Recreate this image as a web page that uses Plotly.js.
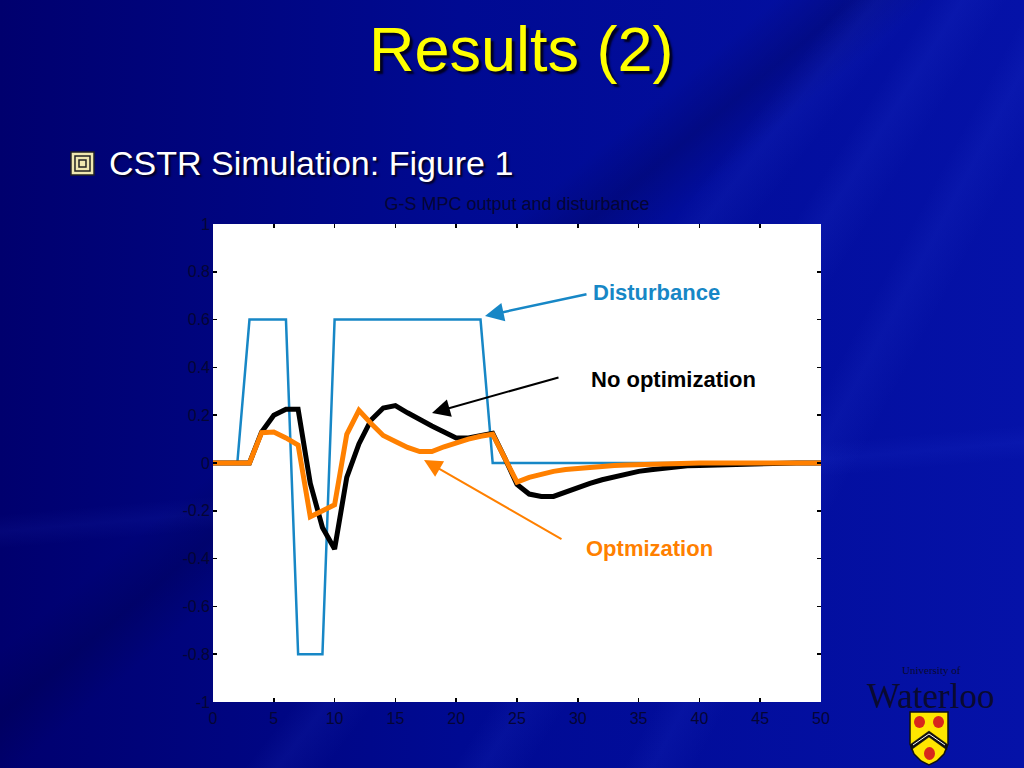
<!DOCTYPE html>
<html>
<head>
<meta charset="utf-8">
<script src="https://cdn.plot.ly/plotly-3.0.1.min.js"></script>
<style>
html,body{margin:0;padding:0;width:1024px;height:768px;overflow:hidden;}
body{
background:
 linear-gradient(128deg, transparent 52%, rgba(70,100,255,0.08) 54%, transparent 57%),
 linear-gradient(122deg, transparent 62%, rgba(70,100,255,0.08) 64%, transparent 67%),
 linear-gradient(118deg, transparent 72%, rgba(70,100,255,0.07) 74%, transparent 77%),
 linear-gradient(140deg, transparent 40%, rgba(0,0,60,0.25) 44%, transparent 48%),
 linear-gradient(175deg, transparent 60%, rgba(60,90,255,0.07) 62%, transparent 64%),
 linear-gradient(to right, #00006e 0%, #000a92 45%, #0512a8 100%);
}
#chart{width:1024px;height:768px;}
</style>
</head>
<body>
<div id="chart"></div>
<script>
// ---- data ----
const xDist = [0, 2, 3, 6, 7, 9, 10, 22, 23, 50];
const yDist = [0, 0, 0.6, 0.6, -0.8, -0.8, 0.6, 0.6, 0, 0];

const tSteps = [0,1,2,3,4,5,6,7,8,9,10,11,12,13,14,15,16,17,18,19,20,21,22,23,24,25,26,27,28,29,30,31,32,33,34,35,36,37,38,39,40,41,42,43,44,45,46,47,48,49,50];
const yNoOpt = [0,0,0,0,0.13,0.20,0.225,0.225,-0.085,-0.27,-0.36,-0.06,0.08,0.18,0.23,0.24,0.21,0.18,0.155,0.13,0.105,0.105,0.113,0.124,0.02,-0.09,-0.13,-0.14,-0.14,-0.12,-0.10,-0.085,-0.07,-0.057,-0.045,-0.035,-0.028,-0.022,-0.016,-0.012,-0.01,-0.008,-0.006,-0.005,-0.004,-0.003,-0.002,-0.001,0,0,0];
const yOpt = [0,0,0,0,0.127,0.13,0.105,0.075,-0.225,-0.2,-0.175,0.12,0.22,0.165,0.115,0.09,0.065,0.048,0.048,0.068,0.085,0.1,0.112,0.12,0.02,-0.08,-0.06,-0.045,-0.035,-0.027,-0.022,-0.017,-0.013,-0.01,-0.008,-0.006,-0.004,-0.002,0,0,0,0,0,0,0,0,0,0,0,0,0];

const xTickVals = [0,5,10,15,20,25,30,35,40,45,50];
const xTickText = ['0','5','10','15','20','25','30','35','40','45','50'];
const yTickVals = [-1,-0.8,-0.6,-0.4,-0.2,0,0.2,0.4,0.6,0.8,1];
const yTickText = ['-1','-0.8','-0.6','-0.4','-0.2','0','0.2','0.4','0.6','0.8','1'];

// ---- helpers for pixel -> paper ----
const L=213, R=821, T=224, B=702;
const px = v => (v-L)/(R-L);
const py = v => (B-v)/(B-T);
function pathPx(pts){ return 'M' + pts.map(p=>px(p[0]).toFixed(4)+','+py(p[1]).toFixed(4)).join(' L') + ' Z'; }

const font = 'Liberation Sans, Arial, sans-serif';
const tickCol = '#050535';

const traces = [
 {x:xDist, y:yDist, mode:'lines', line:{color:'#1787c6', width:2.5}, name:'Disturbance'},
 {x:tSteps, y:yNoOpt, mode:'lines', line:{color:'#000000', width:5}, name:'No optimization'},
 {x:tSteps, y:yOpt, mode:'lines', line:{color:'#ff8000', width:5}, name:'Optmization'}
];

const shapes = [
 // bullet icon
 {type:'path', xref:'paper', yref:'paper', path:pathPx([[71,152],[94,152],[94,175],[71,175]]), fillcolor:'#efe7b0', line:{color:'#222', width:1.5}},
 {type:'path', xref:'paper', yref:'paper', path:pathPx([[75,156],[90,156],[90,171],[75,171]]), fillcolor:'rgba(0,0,0,0)', line:{color:'#222', width:1.5}},
 {type:'path', xref:'paper', yref:'paper', path:pathPx([[79,160],[86,160],[86,167],[79,167]]), fillcolor:'rgba(0,0,0,0)', line:{color:'#222', width:1.5}},
 // shield
 {type:'path', xref:'paper', yref:'paper', path:pathPx([[910,712],[948,712],[948,744],[944,754],[937,761],[929,765],[921,761],[914,754],[910,744]]), fillcolor:'#ffe600', line:{color:'#111', width:1.5}},
 {type:'path', xref:'paper', yref:'paper', path:pathPx([[911,744],[929,731],[947,744],[947,750],[929,737],[911,750]]), fillcolor:'#111', line:{color:'#111', width:0.5}},
 {type:'path', xref:'paper', yref:'paper', path:pathPx([[913,745],[929,734],[945,745]]).replace(' Z',''), fillcolor:'rgba(0,0,0,0)', line:{color:'#fff', width:1}},
 {type:'circle', xref:'paper', yref:'paper', x0:px(914), x1:px(925), y0:py(728), y1:py(716), fillcolor:'#d8261c', line:{width:0}},
 {type:'circle', xref:'paper', yref:'paper', x0:px(933), x1:px(944), y0:py(728), y1:py(716), fillcolor:'#d8261c', line:{width:0}},
 {type:'circle', xref:'paper', yref:'paper', x0:px(924), x1:px(935), y0:py(760), y1:py(747), fillcolor:'#d8261c', line:{width:0}}
];

const annotations = [
 // slide title
 {xref:'paper', yref:'paper', x:px(521), y:py(49), text:'Results (2)', showarrow:false, xanchor:'center', yanchor:'middle',
  font:{family:font, size:63, color:'#ffff00', shadow:'3px 3px 2px #000020'}},
 // bullet text
 {xref:'paper', yref:'paper', x:px(107), y:py(163), text:'CSTR Simulation: Figure 1', showarrow:false, xanchor:'left', yanchor:'middle',
  font:{family:font, size:34, color:'#ffffff', shadow:'2px 2px 2px #000020'}},
 // arrows
 {xref:'x', yref:'y', axref:'x', ayref:'y', x:(485-L)/12.16, y:(463-316)/239, ax:(588-L)/12.16, ay:(463-294)/239, text:'', showarrow:true,
  arrowhead:2, arrowsize:1.5, arrowwidth:2.5, arrowcolor:'#1787c6'},
 {xref:'x', yref:'y', axref:'x', ayref:'y', x:(432-L)/12.16, y:(463-413)/239, ax:(560-L)/12.16, ay:(463-377)/239, text:'', showarrow:true,
  arrowhead:2, arrowsize:1.8, arrowwidth:2, arrowcolor:'#000000'},
 {xref:'x', yref:'y', axref:'x', ayref:'y', x:(424-L)/12.16, y:(463-460)/239, ax:(563-L)/12.16, ay:(463-540)/239, text:'', showarrow:true,
  arrowhead:2, arrowsize:1.8, arrowwidth:2, arrowcolor:'#ff8000'},
 // labels
 {xref:'paper', yref:'paper', x:px(591), y:py(292), text:'<b>Disturbance</b>', showarrow:false, xanchor:'left', yanchor:'middle',
  font:{family:font, size:22, color:'#1787c6'}},
 {xref:'paper', yref:'paper', x:px(589), y:py(379), text:'<b>No optimization</b>', showarrow:false, xanchor:'left', yanchor:'middle',
  font:{family:font, size:22, color:'#000000'}},
 {xref:'paper', yref:'paper', x:px(584), y:py(548), text:'<b>Optmization</b>', showarrow:false, xanchor:'left', yanchor:'middle',
  font:{family:font, size:22, color:'#ff8000'}},
 // logo text
 {xref:'paper', yref:'paper', x:px(931), y:py(677), text:'University of', showarrow:false, xanchor:'center', yanchor:'bottom',
  font:{family:'Liberation Serif, serif', size:11, color:'#0a0a30'}, borderpad:0},
 {xref:'paper', yref:'paper', x:px(930), y:py(676), text:'Waterloo', showarrow:false, xanchor:'center', yanchor:'top',
  font:{family:'Liberation Serif, serif', size:35, color:'#0a0a30'}, borderpad:0}
];

const layout = {
 width:1024, height:768,
 margin:{l:L, r:1024-R, t:T, b:768-B, pad:0},
 paper_bgcolor:'rgba(0,0,0,0)',
 plot_bgcolor:'#ffffff',
 showlegend:false,
 title:{text:'G-S MPC output and disturbance', x:0.5, xref:'paper', xanchor:'center', y:1-204/768, yref:'container', yanchor:'middle',
  font:{family:font, size:18, color:tickCol}},
 xaxis:{range:[0,50], tickvals:xTickVals, ticktext:xTickText, ticks:'inside', ticklen:4, tickwidth:1.5, tickcolor:'#000',
  mirror:'ticks', showline:false, showgrid:false, zeroline:false, tickfont:{family:font, size:16, color:tickCol}, ticklabelstandoff:5},
 yaxis:{range:[-1,1], tickvals:yTickVals, ticktext:yTickText, ticks:'inside', ticklen:4, tickwidth:1.5, tickcolor:'#000',
  mirror:'ticks', showline:false, showgrid:false, zeroline:false, tickfont:{family:font, size:16, color:tickCol}, ticklabelstandoff:2},
 shapes:shapes,
 annotations:annotations
};

Plotly.newPlot('chart', traces, layout, {staticPlot:true, displayModeBar:false});
</script>
</body>
</html>
